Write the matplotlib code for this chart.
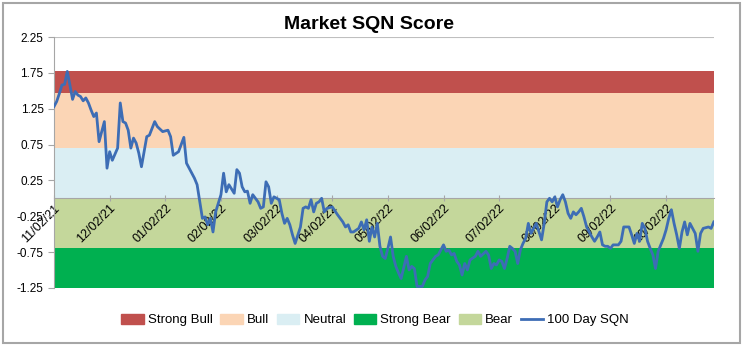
import matplotlib
matplotlib.use("Agg")
import matplotlib.pyplot as plt
from matplotlib.patches import Patch, Rectangle
from matplotlib.lines import Line2D

plt.rcParams["font.family"] = ["Liberation Sans", "DejaVu Sans"]

# trading-day offset from 11/02/21 and 100-day SQN value
dias = [0, 1, 2, 3, 4, 5, 6, 7, 8, 9, 10, 11, 12, 13, 14, 15, 16, 17, 18, 19,
        20, 21, 22, 24, 25, 26, 27, 28, 29, 30, 31, 32, 33, 35, 36, 38, 39, 41, 43, 44,
        45, 47, 49, 50, 51, 53, 54, 56, 57, 58, 59, 60, 61, 62, 63, 64, 65, 66, 68, 69,
        70, 71, 72, 73, 74, 75, 77, 78, 79, 80, 81, 82, 83, 85, 86, 87, 88, 89, 90, 91,
        93, 94, 95, 96, 97, 98, 99, 100, 101, 102, 103, 105, 107, 109, 110, 111, 112, 113, 115, 116,
        117, 118, 119, 120, 121, 122, 123, 124, 125, 126, 127, 128, 129, 130, 131, 133, 134, 135, 136, 137,
        139, 140, 141, 142, 144, 145, 147, 148, 149, 150, 151, 152, 153, 154, 155, 156, 157, 159, 160, 161,
        163, 164, 165, 166, 167, 168, 169, 170, 171, 172, 173, 174, 175, 176, 177, 178, 179, 180, 182, 184,
        185, 186, 187, 188, 189, 190, 191, 192, 193, 194, 195, 196, 197, 198, 199, 200, 201, 202, 203, 204,
        205, 206, 207, 208, 209, 210, 211, 213, 214, 215, 217, 218, 219, 220, 221, 222, 223, 224, 225, 226,
        227, 228, 229, 230, 231, 232, 233, 234, 235, 236, 237, 238, 239, 240, 242, 243, 244, 245, 247, 248,
        249]
sqn = [1.28, 1.35, 1.46, 1.58, 1.59, 1.77, 1.58, 1.38, 1.49, 1.44, 1.42, 1.36, 1.40, 1.33, 1.23, 1.14, 1.19, 0.79, 0.93, 1.07,
       0.42, 0.65, 0.53, 0.70, 1.33, 1.07, 1.05, 0.95, 0.70, 0.84, 0.77, 0.63, 0.44, 0.86, 0.88, 1.07, 1.00, 0.93, 0.95, 0.86,
       0.60, 0.65, 0.85, 0.49, 0.42, 0.28, 0.19, -0.28, -0.26, -0.37, -0.28, -0.47, -0.19, -0.07, 0.05, 0.35, 0.09, 0.19, 0.07, 0.40,
       0.35, 0.16, 0.09, 0.10, -0.07, 0.05, -0.05, -0.14, -0.12, 0.23, 0.16, -0.07, 0.02, -0.02, -0.21, -0.35, -0.28, -0.37, -0.51, -0.63,
       -0.40, -0.14, -0.12, -0.14, -0.02, -0.19, -0.07, -0.05, 0.00, -0.19, -0.14, -0.12, -0.23, -0.33, -0.40, -0.37, -0.47, -0.47, -0.42, -0.33,
       -0.44, -0.30, -0.60, -0.40, -0.54, -0.35, -0.67, -0.81, -0.84, -0.70, -0.54, -0.81, -0.95, -1.04, -1.12, -0.81, -1.00, -0.95, -0.98, -1.23,
       -1.23, -1.14, -1.09, -0.91, -0.81, -0.79, -0.65, -0.74, -0.72, -0.79, -0.77, -0.88, -0.93, -1.07, -0.91, -1.00, -0.86, -0.81, -0.74, -0.81,
       -0.74, -0.79, -0.98, -0.91, -0.93, -0.86, -0.88, -0.98, -0.84, -0.67, -0.70, -0.74, -0.91, -0.72, -0.63, -0.56, -0.35, -0.49, -0.35, -0.58,
       -0.35, -0.05, 0.00, -0.05, 0.02, -0.12, -0.02, 0.05, -0.05, -0.21, -0.28, -0.19, -0.23, -0.19, -0.14, -0.26, -0.40, -0.47, -0.54, -0.60,
       -0.54, -0.47, -0.65, -0.67, -0.67, -0.70, -0.65, -0.65, -0.60, -0.40, -0.40, -0.51, -0.63, -0.49, -0.60, -0.35, -0.42, -0.60, -0.70, -0.79,
       -0.98, -0.74, -0.65, -0.56, -0.44, -0.28, -0.16, -0.35, -0.51, -0.70, -0.47, -0.33, -0.51, -0.35, -0.49, -0.74, -0.49, -0.42, -0.40, -0.42,
       -0.33]

# regime bands (lower, upper)
bandas = ["Strong Bull", "Bull", "Neutral", "Strong Bear", "Bear"]
inferior = [1.47, 0.70, 0.0, -1.25, -0.70]
superior = [1.77, 1.47, 0.70, -0.70, 0.0]
colores = ["#C0504D", "#FBD5B5", "#DAEEF3", "#00B050", "#C4D79B"]

etiquetas_x = ["11/02/21", "12/02/21", "01/02/22", "02/02/22", "03/02/22", "04/02/22",
               "05/02/22", "06/02/22", "07/02/22", "08/02/22", "09/02/22", "10/02/22"]
pos_x = [0, 21, 42, 63, 84, 105, 126, 147, 168, 189, 210, 231]
ticks_y = [-1.25, -0.75, -0.25, 0.25, 0.75, 1.25, 1.75, 2.25]

fig = plt.figure(figsize=(7.43, 3.46), dpi=100)
ax = fig.add_axes([0.0727, 0.168, 0.888, 0.725])

# eje x cruzando en 0 (antes de poner las etiquetas: set_position reinicia los ticks)
ax.spines["bottom"].set_position(("data", 0))
for s in ["top", "right"]:
    ax.spines[s].set_visible(False)
for s in ["bottom", "left"]:
    ax.spines[s].set_color("#A6A6A6")

x0, x1 = dias[0], dias[-1]
for y in ticks_y:
    ax.axhline(y, color="#BFBFBF", lw=0.8, zorder=0.5)
for nombre, lo, hi, c in zip(bandas, inferior, superior, colores):
    ax.fill_between([x0, x1], [lo, lo], [hi, hi], color=c, lw=0, zorder=1)

ax.plot(dias, sqn, color="#3D6DB5", lw=2, zorder=3)

ax.set_xlim(x0, x1)
ax.set_ylim(-1.25, 2.25)
ax.set_yticks(ticks_y)
ax.set_yticklabels([f"{v:.2f}" for v in ticks_y], fontsize=8.5)

ax.set_xticks(pos_x)
ax.set_xticklabels(etiquetas_x, rotation=45, ha="right", va="top",
                   rotation_mode="anchor", fontsize=9)
ax.tick_params(axis="x", direction="inout", length=4, color="#A6A6A6", pad=1)
ax.tick_params(axis="y", direction="out", length=4, color="#A6A6A6")

fig.text(0.497, 0.928, "Market SQN Score", ha="center", va="center",
         fontsize=14, fontweight="bold")

manejadores = [Patch(color=c, label=n) for n, c in zip(bandas, colores)]
manejadores.append(Line2D([], [], color="#3D6DB5", lw=2, label="100 Day SQN"))
fig.legend(handles=manejadores, loc="center", bbox_to_anchor=(0.505, 0.075), ncol=6,
           frameon=False, fontsize=9.5, handlelength=1.7, handleheight=0.8,
           handletextpad=0.3, columnspacing=0.6)

fig.add_artist(Rectangle((0.004, 0.008), 0.992, 0.984, transform=fig.transFigure,
                         fill=False, edgecolor="#A6A6A6", lw=1.5))

fig.savefig("out.png", dpi=100)
